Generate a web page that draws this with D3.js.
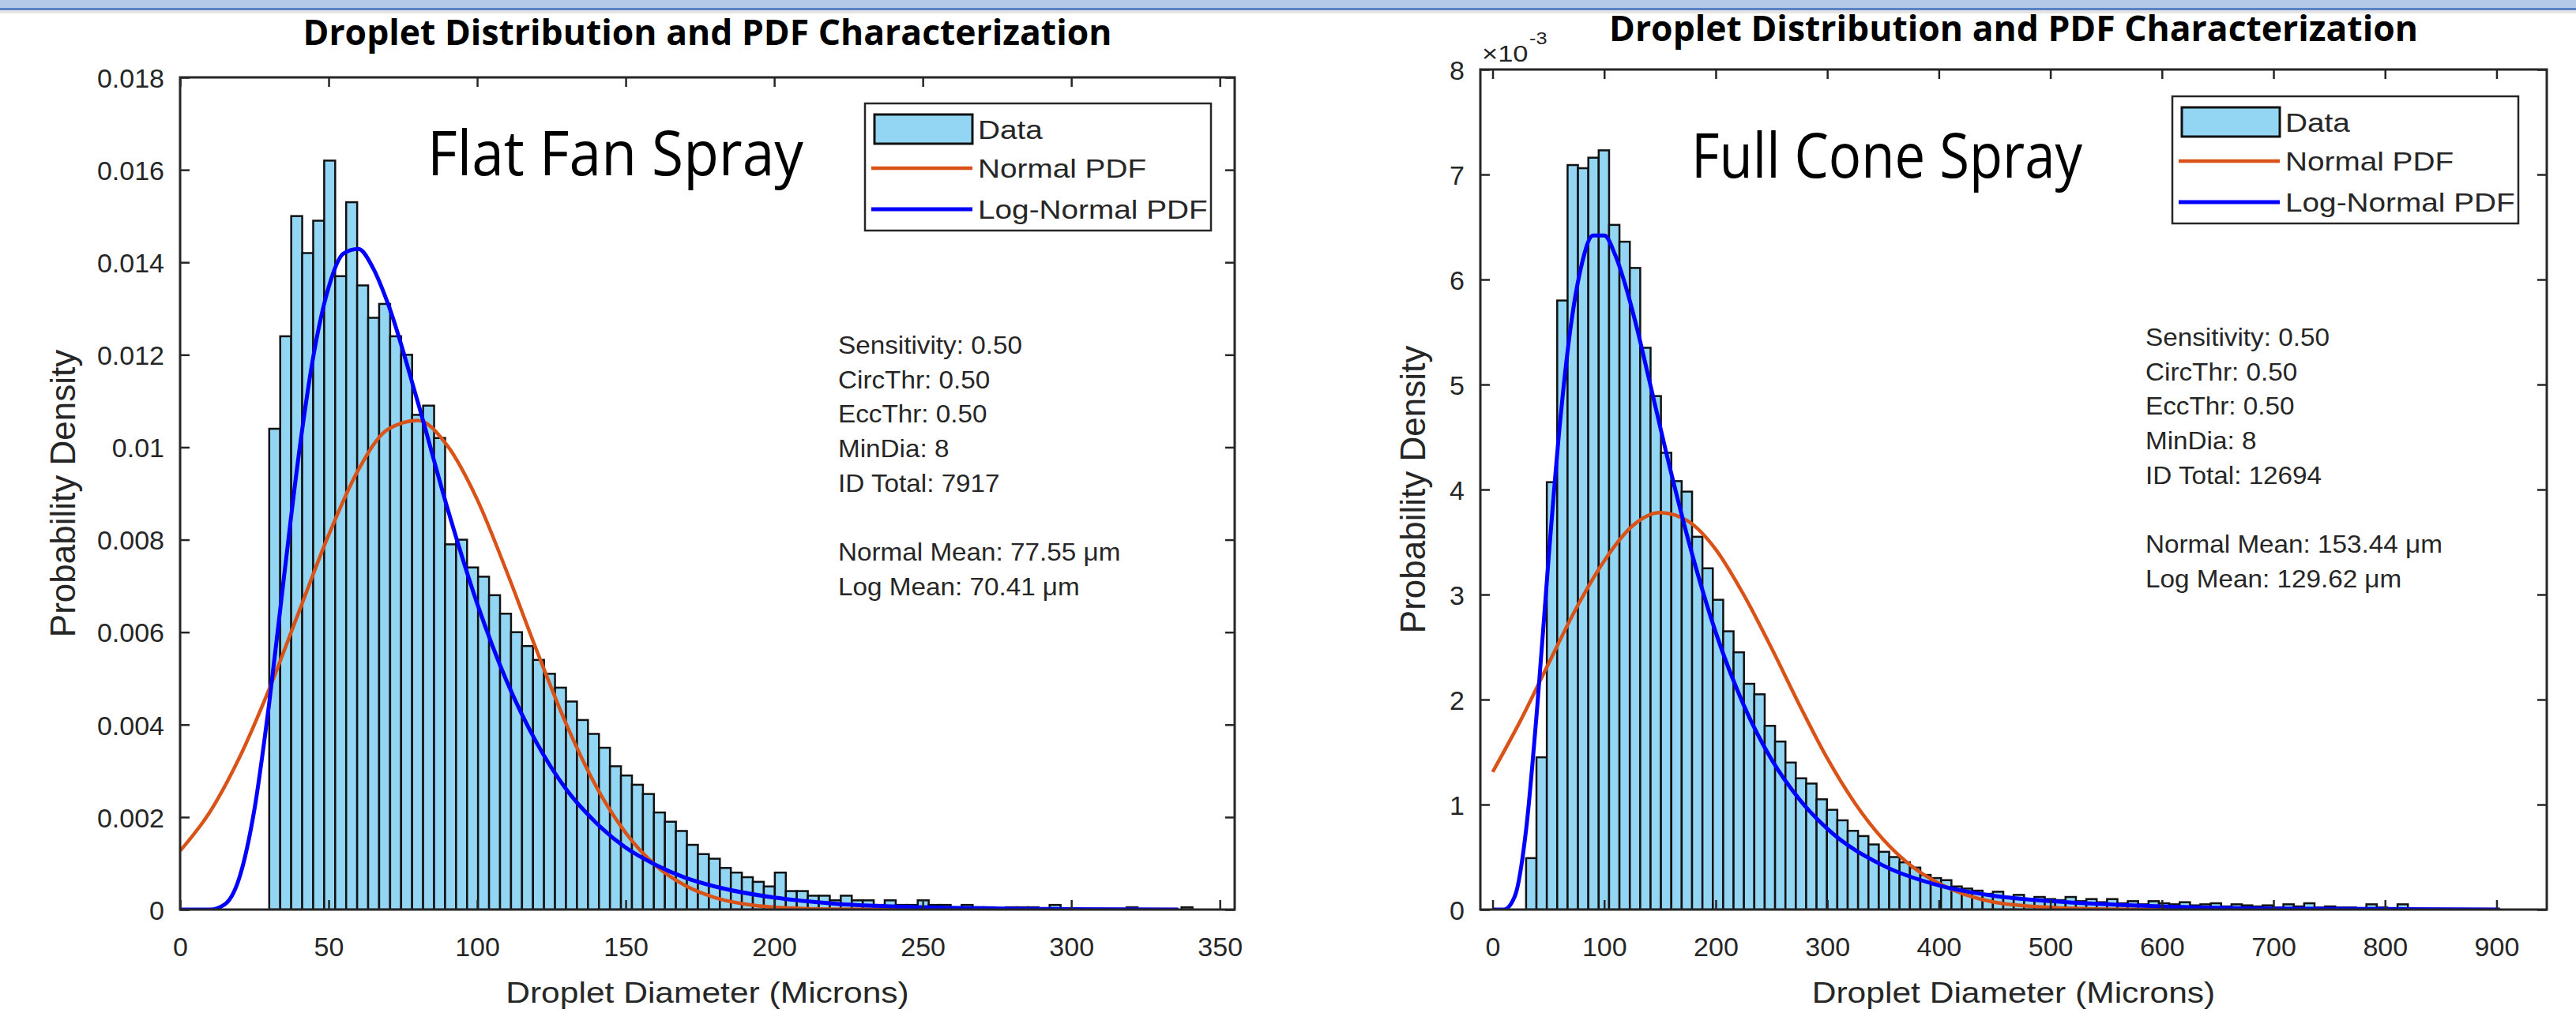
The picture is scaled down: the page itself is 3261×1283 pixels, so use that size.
<!DOCTYPE html>
<html>
<head>
<meta charset="utf-8">
<script src="https://cdn.jsdelivr.net/npm/d3@7"></script>
<style>
  body { margin: 0; background: #fff; }
  svg { display: block; }
</style>
</head>
<body>
<svg id="chart"></svg>
<script>
// histogram data (pdf normalised)
const fanBinStart = 30, fanBinWidth = 3.7
const fanDensity = [
  0.0104, 0.0124, 0.0150, 0.0142, 0.0149, 0.0162, 0.0137, 0.0153, 0.0135, 0.0128,
  0.0131, 0.0124, 0.0120, 0.0107, 0.0109, 0.0102, 0.0079, 0.0080, 0.0074, 0.0072,
  0.0068, 0.0064, 0.0060, 0.0057, 0.0054, 0.0051, 0.0048, 0.0045, 0.0041, 0.0038,
  0.0035, 0.0031, 0.0029, 0.0027, 0.0025, 0.0021, 0.0019, 0.0017, 0.0014, 0.0012,
  0.0011, 0.0009, 0.0008, 0.0007, 0.0006, 0.0005, 0.0008, 0.0004, 0.0004, 0.0003,
  0.0003, 0.0002, 0.0003, 0.0002, 0.0002, 0.0001, 0.0002, 0.0001, 0.0001, 0.0002,
  0.0001, 0.0001, 0.00005, 0.0001, 0.00005, 0.00005, 0, 0.00005, 0.00005, 0.00005,
  0, 0.0001, 0, 0, 0, 0, 0, 0, 0.00005, 0,
  0, 0, 0, 0.00005
]
// fitted curves: [diameter, density]
const fanNormal = [
  [0, 0.00127], [10, 0.00211], [20, 0.00329], [30, 0.00477], [40, 0.00644], [50, 0.00810],
  [60, 0.00951], [70, 0.01039], [80, 0.01058], [90, 0.01003], [100, 0.00887], [110, 0.00730],
  [120, 0.00561], [130, 0.00401], [140, 0.00267], [150, 0.00166], [160, 0.00096], [170, 0.00052],
  [180, 0.00026], [190, 0.00012], [200, 0.00005], [220, 0.00001], [250, 0], [336, 0]
]
const fanLogNormal = [
  [0, 0], [10, 0], [15, 0.00011], [20, 0.00070], [25, 0.00216], [30, 0.00447], [35, 0.00721],
  [40, 0.00986], [45, 0.01202], [50, 0.01346], [55, 0.01419], [60, 0.01429], [65, 0.01387],
  [70, 0.01310], [80, 0.01098], [90, 0.00868], [100, 0.00662], [110, 0.00493], [120, 0.00361],
  [130, 0.00260], [140, 0.00188], [150, 0.00134], [160, 0.00097], [170, 0.00069], [180, 0.00050],
  [200, 0.00026], [220, 0.00013], [250, 0.00005], [300, 0.00001], [336, 0]
]
const fanNotes = ["Sensitivity: 0.50", "CircThr: 0.50", "EccThr: 0.50", "MinDia: 8", "ID Total: 7917", "", "Normal Mean: 77.55 μm", "Log Mean: 70.41 μm"]

const coneBinStart = 30, coneBinWidth = 9.3
// values in units of 1e-3
const coneDensity = [
  0.49, 1.45, 4.07, 5.80, 7.09, 7.06, 7.16, 7.23, 6.52, 6.36,
  6.11, 5.35, 4.89, 4.35, 4.08, 3.98, 3.55, 3.25, 2.95, 2.65,
  2.45, 2.15, 2.05, 1.75, 1.60, 1.40, 1.25, 1.20, 1.05, 0.95,
  0.85, 0.75, 0.70, 0.62, 0.55, 0.50, 0.45, 0.40, 0.33, 0.30,
  0.28, 0.22, 0.20, 0.18, 0.15, 0.17, 0.12, 0.14, 0.10, 0.12,
  0.10, 0.09, 0.12, 0.08, 0.10, 0.07, 0.10, 0.06, 0.08, 0.05,
  0.08, 0.06, 0.05, 0.07, 0.04, 0.05, 0.06, 0.03, 0.05, 0.04,
  0.03, 0.04, 0.02, 0.05, 0.03, 0.06, 0.02, 0.03, 0.02, 0.02,
  0, 0.05, 0.02, 0, 0.05
]
const coneNormal = [
  [0, 1.31], [25, 1.80], [50, 2.34], [75, 2.87], [100, 3.32], [125, 3.65], [150, 3.78],
  [175, 3.70], [200, 3.43], [225, 3.00], [250, 2.49], [275, 1.95], [300, 1.44], [325, 1.01],
  [350, 0.67], [375, 0.42], [400, 0.25], [450, 0.07], [500, 0.02], [550, 0.004], [600, 0], [903, 0]
]
const coneLogNormal = [
  [0, 0], [10, 0], [20, 0.13], [30, 0.76], [40, 1.93], [50, 3.32], [60, 4.59], [70, 5.55],
  [80, 6.15], [90, 6.42], [100, 6.42], [110, 6.23], [120, 5.91], [130, 5.51], [140, 5.06],
  [160, 4.16], [180, 3.34], [200, 2.64], [225, 1.95], [250, 1.43], [275, 1.05], [300, 0.77],
  [350, 0.42], [400, 0.23], [450, 0.13], [500, 0.08], [600, 0.03], [700, 0.01], [800, 0.005], [903, 0]
]
const coneNotes = ["Sensitivity: 0.50", "CircThr: 0.50", "EccThr: 0.50", "MinDia: 8", "ID Total: 12694", "", "Normal Mean: 153.44 μm", "Log Mean: 129.62 μm"]

const fanXTicks = [0, 50, 100, 150, 200, 250, 300, 350]
const fanYTicks = [0, 0.002, 0.004, 0.006, 0.008, 0.01, 0.012, 0.014, 0.016, 0.018]
const coneXTicks = [0, 100, 200, 300, 400, 500, 600, 700, 800, 900]
const coneYTicks = [0, 1, 2, 3, 4, 5, 6, 7, 8]
const legendItems = ["Data", "Normal PDF", "Log-Normal PDF"]

const W = 3261, H = 1283
const FONT = "'Liberation Sans', Arial, sans-serif"
const INK = "#262626"
const BAR = "#93d6f3"
const ORANGE = "#d95319"
const BLUE = "#0000ff"

const svg = d3.select("#chart").attr("width", W).attr("height", H)
svg.append("rect").attr("width", W).attr("height", H).attr("fill", "#fff")

// slide strip at the top of the screenshot
const strip = svg.append("g")
strip.append("rect").attr("width", W).attr("height", 11).attr("fill", "#b4c8e8")
strip.append("rect").attr("y", 10).attr("width", W).attr("height", 3).attr("fill", "#5b82c4")
strip.append("rect").attr("y", 13).attr("width", W).attr("height", 4).attr("fill", "#e4e4e4")

// text whose glyphs can be widened a little (the screenshot is slightly stretched)
function wideText(parent, x, y, str, size, anchor, sx = 1) {
  return parent.append("text")
    .attr("transform", `translate(${x},${y}) scale(${sx},1)`)
    .attr("text-anchor", anchor)
    .attr("font-family", FONT)
    .attr("font-size", size)
    .attr("fill", INK)
    .text(str)
}

function drawPanel(cfg) {
  const g = svg.append("g")
  const x = d3.scaleLinear().domain(cfg.xDomain).range([cfg.left, cfg.right])
  const y = d3.scaleLinear().domain(cfg.yDomain).range([cfg.bottom, cfg.top])

  const clipId = "clip" + cfg.id
  g.append("clipPath").attr("id", clipId)
    .append("rect").attr("x", cfg.left).attr("y", cfg.top)
    .attr("width", cfg.right - cfg.left).attr("height", cfg.bottom - cfg.top)

  const plot = g.append("g").attr("clip-path", `url(#${clipId})`)

  // histogram bars
  plot.selectAll("rect.bar")
    .data(cfg.density)
    .join("rect")
    .attr("class", "bar")
    .attr("x", (d, i) => x(cfg.binStart + i * cfg.binWidth))
    .attr("width", (d, i) => x(cfg.binStart + (i + 1) * cfg.binWidth) - x(cfg.binStart + i * cfg.binWidth))
    .attr("y", d => y(d))
    .attr("height", d => y(0) - y(d))
    .attr("fill", BAR)
    .attr("stroke", "#111")
    .attr("stroke-width", 2.5)

  const line = d3.line().x(d => x(d[0])).y(d => y(d[1])).curve(d3.curveMonotoneX)
  plot.append("path").datum(cfg.normal)
    .attr("d", line).attr("fill", "none").attr("stroke", ORANGE).attr("stroke-width", 4.5)
  plot.append("path").datum(cfg.logNormal)
    .attr("d", line).attr("fill", "none").attr("stroke", BLUE).attr("stroke-width", 5)

  // axes, ticks pointing inward on all four sides
  const bottomAxis = g.append("g").attr("transform", `translate(0,${cfg.bottom})`)
    .call(d3.axisBottom(x).tickValues(cfg.xTicks).tickSizeInner(-12).tickSizeOuter(0).tickPadding(35))
  const leftAxis = g.append("g").attr("transform", `translate(${cfg.left},0)`)
    .call(d3.axisLeft(y).tickValues(cfg.yTicks).tickFormat(cfg.yFormat).tickSizeInner(-12).tickSizeOuter(0).tickPadding(20))
  g.append("g").attr("transform", `translate(0,${cfg.top})`)
    .call(d3.axisTop(x).tickValues(cfg.xTicks).tickFormat("").tickSizeInner(-12).tickSizeOuter(0))
  g.append("g").attr("transform", `translate(${cfg.right},0)`)
    .call(d3.axisRight(y).tickValues(cfg.yTicks).tickFormat("").tickSizeInner(-12).tickSizeOuter(0))

  g.selectAll(".domain").remove()
  g.selectAll(".tick line").attr("stroke", INK).attr("stroke-width", 2.5)
  g.selectAll(".tick text")
    .attr("font-family", FONT).attr("font-size", 34).attr("fill", INK)
  leftAxis.selectAll(".tick text").attr("dy", "0.36em")
  bottomAxis.selectAll(".tick text").attr("dy", "0.71em")

  g.append("rect")
    .attr("x", cfg.left).attr("y", cfg.top)
    .attr("width", cfg.right - cfg.left).attr("height", cfg.bottom - cfg.top)
    .attr("fill", "none").attr("stroke", INK).attr("stroke-width", 3)

  // title and axis labels
  g.append("text")
    .attr("x", (cfg.left + cfg.right) / 2).attr("y", cfg.titleY)
    .attr("text-anchor", "middle")
    .attr("font-family", "'Open Sans', sans-serif").attr("font-weight", "bold")
    .attr("font-size", 44).attr("fill", "#000")
    .attr("textLength", 1024).attr("lengthAdjust", "spacingAndGlyphs")
    .text("Droplet Distribution and PDF Characterization")

  wideText(g, (cfg.left + cfg.right) / 2, 1270, "Droplet Diameter (Microns)", 37, "middle", 1.15)
  g.append("text")
    .attr("transform", `translate(${cfg.yLabelX},${(cfg.top + cfg.bottom) / 2}) rotate(-90)`)
    .attr("text-anchor", "middle")
    .attr("font-family", FONT).attr("font-size", 44).attr("fill", INK)
    .text("Probability Density")

  if (cfg.exponent) {
    wideText(g, cfg.left + 2, 78, "×10", 30, "start", 1.15)
    wideText(g, cfg.left + 62, 56, "-3", 22, "start", 1.15)
  }

  // big spray label
  g.append("text")
    .attr("x", cfg.sprayX).attr("y", cfg.sprayY)
    .attr("font-family", "'Open Sans', sans-serif").attr("font-size", 78).attr("fill", "#000")
    .attr("textLength", cfg.sprayW).attr("lengthAdjust", "spacingAndGlyphs")
    .text(cfg.spray)

  // legend
  const lg = g.append("g").attr("transform", `translate(${cfg.legendX},${cfg.legendY})`)
  lg.append("rect").attr("width", 438).attr("height", 161)
    .attr("fill", "#fff").attr("stroke", INK).attr("stroke-width", 2.5)
  lg.append("rect").attr("x", 12).attr("y", 14).attr("width", 124).attr("height", 37)
    .attr("fill", BAR).attr("stroke", "#111").attr("stroke-width", 3)
  lg.append("line").attr("x1", 8).attr("x2", 136).attr("y1", 82).attr("y2", 82)
    .attr("stroke", ORANGE).attr("stroke-width", 4.5)
  lg.append("line").attr("x1", 8).attr("x2", 136).attr("y1", 134).attr("y2", 134)
    .attr("stroke", BLUE).attr("stroke-width", 5)
  legendItems.forEach((t, i) => wideText(lg, 143, [45, 94, 146][i], t, 34, "start", 1.14))

  // fit annotations
  cfg.notes.forEach((t, i) => {
    if (t) wideText(g, cfg.notesX, cfg.notesY + i * 43.7, t, 32, "start", 1.04)
  })
}

drawPanel({
  id: "fan", left: 228, right: 1563, top: 98, bottom: 1152,
  xDomain: [0, 355], yDomain: [0, 0.018],
  xTicks: fanXTicks, yTicks: fanYTicks,
  yFormat: d => d === 0 ? "0" : String(+d.toFixed(3)),
  binStart: fanBinStart, binWidth: fanBinWidth, density: fanDensity,
  normal: fanNormal, logNormal: fanLogNormal,
  titleY: 57, yLabelX: 95, exponent: false,
  spray: "Flat Fan Spray", sprayX: 541, sprayY: 222, sprayW: 476,
  legendX: 1095, legendY: 131,
  notes: fanNotes, notesX: 1061, notesY: 448
})

drawPanel({
  id: "cone", left: 1874, right: 3224, top: 88, bottom: 1152,
  xDomain: [-11, 945], yDomain: [0, 8],
  xTicks: coneXTicks, yTicks: coneYTicks,
  yFormat: d => String(d),
  binStart: coneBinStart, binWidth: coneBinWidth, density: coneDensity,
  normal: coneNormal, logNormal: coneLogNormal,
  titleY: 52, yLabelX: 1804, exponent: true,
  spray: "Full Cone Spray", sprayX: 2141, sprayY: 225, sprayW: 495,
  legendX: 2750, legendY: 122,
  notes: coneNotes, notesX: 2716, notesY: 438
})
</script>
</body>
</html>
